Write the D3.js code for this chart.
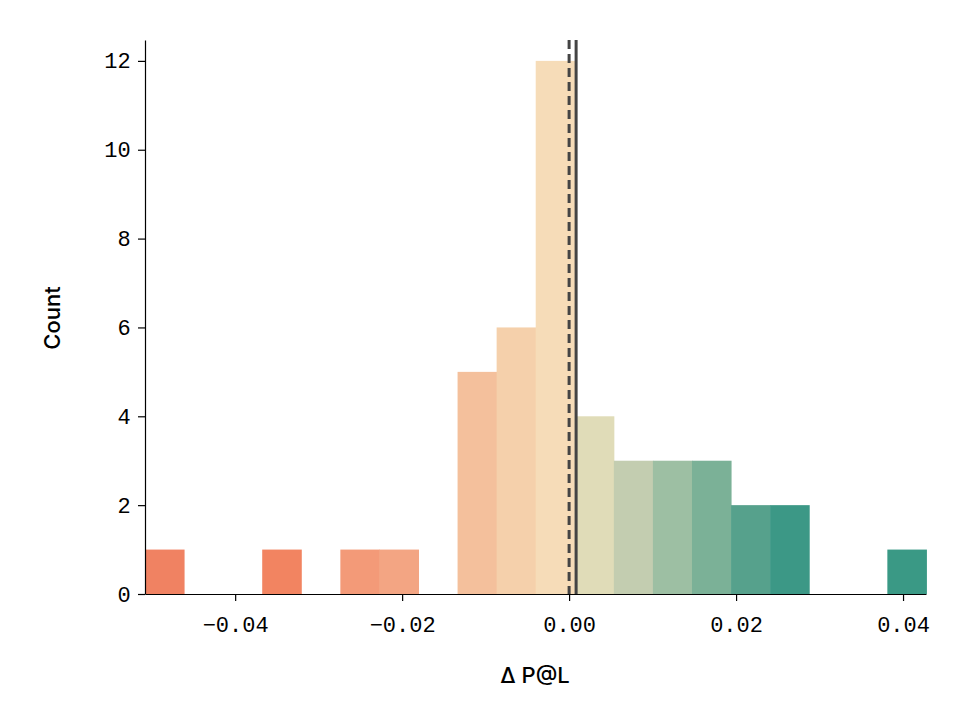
<!DOCTYPE html><html><head><meta charset="utf-8"><script src="https://cdn.jsdelivr.net/npm/d3@7"></script>
<style>body{margin:0;background:#fff}</style></head><body><svg id="c" width="980" height="727"></svg>
<script>
const binStart = -0.0508, binWidth = 0.00468;
const counts = [1,0,0,1,0,1,1,0,5,6,12,4,3,3,3,2,2,0,0,1];
const colors = ["#f08262","#f08462","#f18562","#f28461","#f39070","#f39a78","#f3a583","#f4b48f","#f4c09c","#f5d0ab","#f6dcb8","#e0dcb8","#c3cdb0","#9dbfa3","#7bb197","#56a18c","#3c9886","#3a9985","#3a9985","#3a9985"];
const xTicks = [-0.04,-0.02,0.00,0.02,0.04];
const yTicks = [0,2,4,6,8,10,12];
const zeroLine = 0.0, meanLine = 0.00084;

const svg = d3.select("#c");
const x = d3.scaleLinear().domain([-0.0508, 0.04275]).range([145, 926]);
const y = d3.scaleLinear().domain([0, 12.47]).range([594, 40]);
const tickFont = "'Liberation Mono', 'DejaVu Sans Mono', monospace";

svg.selectAll("rect.bar").data(counts).join("rect")
  .attr("x", (d,i)=>x(binStart+i*binWidth))
  .attr("width", (d,i)=>x(binStart+(i+1)*binWidth)-x(binStart+i*binWidth)+0.5)
  .attr("y", d=>y(d)).attr("height", d=>y(0)-y(d))
  .attr("fill", (d,i)=>colors[i]);

svg.append("line").attr("x1",x(zeroLine)).attr("x2",x(zeroLine)).attr("y1",40).attr("y2",594)
  .attr("stroke","#444").attr("stroke-width",3).attr("stroke-dasharray","9,5");
svg.append("line").attr("x1",x(meanLine)).attr("x2",x(meanLine)).attr("y1",40).attr("y2",594)
  .attr("stroke","#444").attr("stroke-width",3);

const gx = svg.append("g").attr("transform","translate(0,594)")
  .call(d3.axisBottom(x).tickValues(xTicks).tickFormat(d=>d3.format(".2f")(d).replace("-","\u2212")).tickSize(7).tickSizeOuter(0));
const gy = svg.append("g").attr("transform","translate(145,0)")
  .call(d3.axisLeft(y).tickValues(yTicks).tickSize(7).tickSizeOuter(0));
[gx,gy].forEach(g=>{g.select(".domain").attr("stroke","#000").attr("stroke-width",1.2);
  g.selectAll(".tick line").attr("stroke","#000").attr("stroke-width",1.2);
  g.selectAll("text").attr("font-family",tickFont).attr("font-size",22).attr("fill","#000");});
gx.selectAll("text").attr("dy","1.25em");
gy.selectAll("text").attr("dx","-0.2em");

svg.append("text").attr("x",535).attr("y",683).attr("text-anchor","middle")
  .attr("font-family","Inter, 'Open Sans', sans-serif").attr("font-size",22).attr("font-weight",500).text("Δ P@L");
svg.append("text").attr("transform","translate(60,318) rotate(-90)").attr("text-anchor","middle")
  .attr("font-family","Inter, 'Open Sans', sans-serif").attr("font-size",22).attr("font-weight",500).text("Count");
</script></body></html>
